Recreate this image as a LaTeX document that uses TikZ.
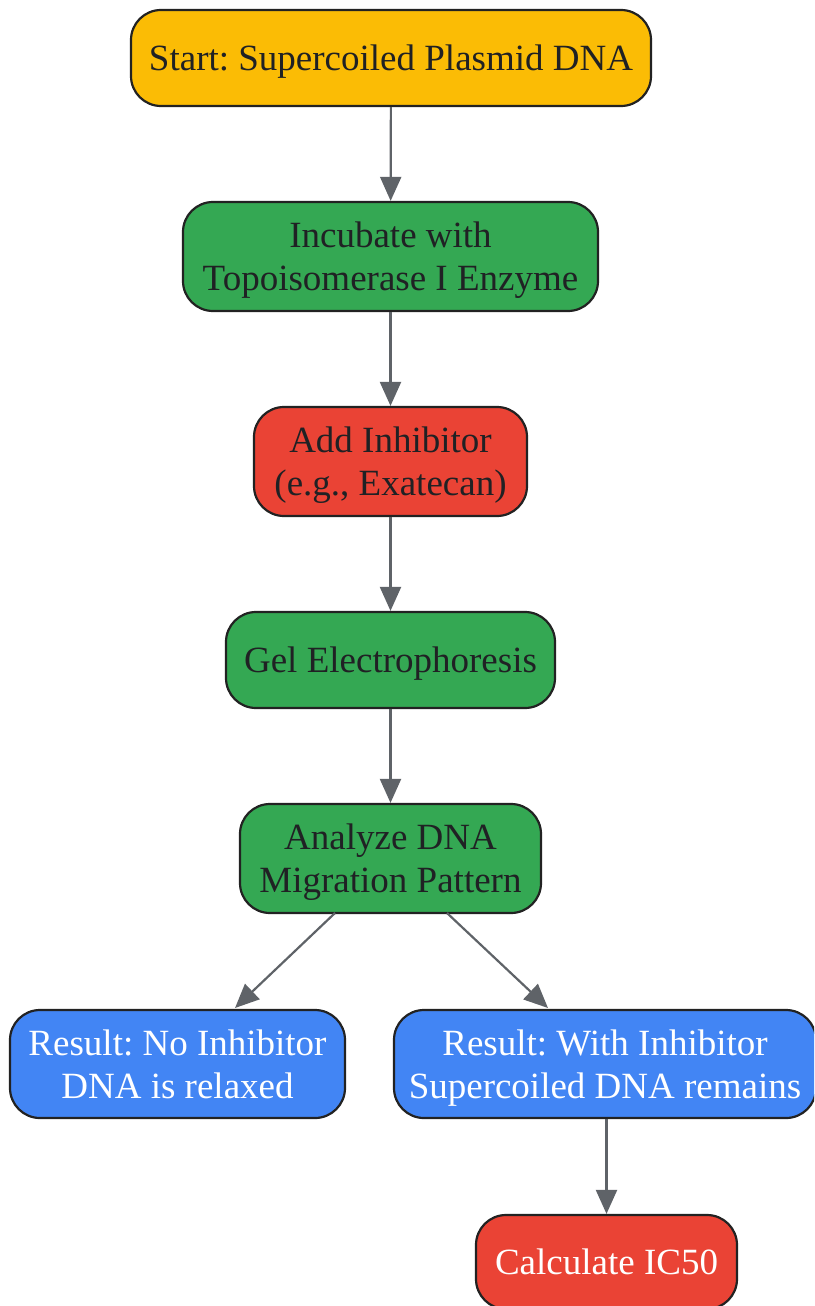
\documentclass[tikz,border=0pt]{standalone}
\usepackage{fontspec}
\setmainfont{Liberation Serif}
\frenchspacing
\usetikzlibrary{arrows.meta}
\definecolor{cyellow}{HTML}{FBBC05}
\definecolor{cgreen}{HTML}{34A853}
\definecolor{cred}{HTML}{EA4335}
\definecolor{cblue}{HTML}{4285F4}
\definecolor{cedge}{HTML}{5F6368}
\definecolor{cborder}{HTML}{222222}
\definecolor{ctext}{HTML}{202124}
\tikzset{
  box/.style={draw=cborder, line width=2.2pt, rounded corners=30pt, align=center,
    inner sep=0pt, text depth=0pt, font=\fontsize{37}{43}\selectfont, text=ctext},
  wtext/.style={text=white},
  conn/.style={draw=cedge, line width=2.2pt, -{Triangle[length=24pt,width=21pt]}},
}
\begin{document}
\begin{tikzpicture}[x=1pt,y=-1pt]
\useasboundingbox (0,0) rectangle (814,1306);
\clip (0,0) rectangle (814,1306);
\node[box, fill=cyellow, minimum width=520pt, minimum height=96pt] (start) at (391,58) {Start: Supercoiled Plasmid DNA};
\node[box, fill=cgreen, minimum width=415pt, minimum height=109pt] (inc) at (390.5,256.5) {Incubate with\\Topoisomerase I Enzyme};
\node[box, fill=cred, minimum width=273pt, minimum height=109pt] (add) at (390.5,461.5) {Add Inhibitor\\(e.g., Exatecan)};
\node[box, fill=cgreen, minimum width=329pt, minimum height=96pt] (gel) at (390.5,660) {Gel Electrophoresis};
\node[box, fill=cgreen, minimum width=301pt, minimum height=109pt] (ana) at (390.5,858.5) {Analyze DNA\\Migration Pattern};
\node[box, wtext, fill=cblue, minimum width=335pt, minimum height=108pt] (rno) at (177.5,1064) {Result: No Inhibitor\\DNA is relaxed};
\node[box, wtext, fill=cblue, minimum width=422pt, minimum height=108pt] (rwith) at (605,1064) {Result: With Inhibitor\\Supercoiled DNA remains};
\node[box, wtext, fill=cred, minimum width=261pt, minimum height=94pt] (calc) at (606.5,1262) {Calculate IC50};
\draw[conn] (start) -- (inc);
\draw[conn] (inc) -- (add);
\draw[conn] (add) -- (gel);
\draw[conn] (gel) -- (ana);
\draw[conn] (335,913) -- (235,1008);
\draw[conn] (447,913) -- (548,1008);
\draw[conn] (rwith.south -| calc.north) -- (calc.north);
\end{tikzpicture}
\end{document}
